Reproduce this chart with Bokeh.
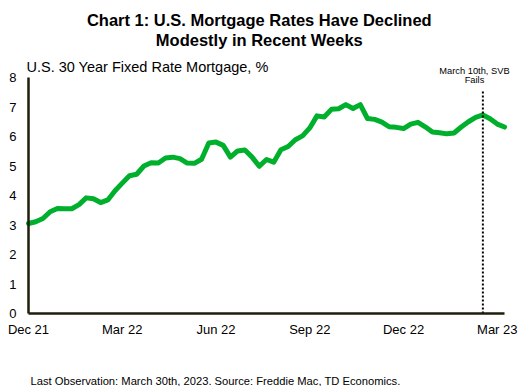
from bokeh.plotting import figure
from bokeh.models import Range1d, FixedTicker, Label
from bokeh.embed import file_html
from bokeh.resources import INLINE

# ---- data ----
dates = [
    "2021-12-23", "2021-12-30", "2022-01-06", "2022-01-13", "2022-01-20", "2022-01-27",
    "2022-02-03", "2022-02-10", "2022-02-17", "2022-02-24", "2022-03-03", "2022-03-10",
    "2022-03-17", "2022-03-24", "2022-03-31", "2022-04-07", "2022-04-14", "2022-04-21",
    "2022-04-28", "2022-05-05", "2022-05-12", "2022-05-19", "2022-05-26", "2022-06-02",
    "2022-06-09", "2022-06-16", "2022-06-23", "2022-06-30", "2022-07-07", "2022-07-14",
    "2022-07-21", "2022-07-28", "2022-08-04", "2022-08-11", "2022-08-18", "2022-08-25",
    "2022-09-01", "2022-09-08", "2022-09-15", "2022-09-22", "2022-09-29", "2022-10-06",
    "2022-10-13", "2022-10-20", "2022-10-27", "2022-11-03", "2022-11-10", "2022-11-17",
    "2022-11-23", "2022-12-01", "2022-12-08", "2022-12-15", "2022-12-22", "2022-12-29",
    "2023-01-05", "2023-01-12", "2023-01-19", "2023-01-26", "2023-02-02", "2023-02-09",
    "2023-02-16", "2023-02-23", "2023-03-02", "2023-03-09", "2023-03-16", "2023-03-23",
    "2023-03-30",
]
rates = [
    3.05, 3.11, 3.22, 3.45, 3.56, 3.55,
    3.55, 3.69, 3.92, 3.89, 3.76, 3.85,
    4.16, 4.42, 4.67, 4.72, 5.00, 5.11,
    5.10, 5.27, 5.30, 5.25, 5.10, 5.09,
    5.23, 5.78, 5.81, 5.70, 5.30, 5.51,
    5.54, 5.30, 4.99, 5.22, 5.13, 5.55,
    5.66, 5.89, 6.02, 6.29, 6.70, 6.66,
    6.92, 6.94, 7.08, 6.95, 7.08, 6.61,
    6.58, 6.49, 6.33, 6.31, 6.27, 6.42,
    6.48, 6.33, 6.15, 6.13, 6.09, 6.12,
    6.32, 6.50, 6.65, 6.73, 6.60, 6.42,
    6.32,
]
tick_labels = ["Dec 21", "Mar 22", "Jun 22", "Sep 22", "Dec 22", "Mar 23"]
tick_step = 13
y_ticks = [0, 1, 2, 3, 4, 5, 6, 7, 8]
event_date = "2023-03-09"
event_lines = ["March 10th, SVB", "Fails"]
title_lines = ["Chart 1: U.S. Mortgage Rates Have Declined", "Modestly in Recent Weeks"]
subtitle = "U.S. 30 Year Fixed Rate Mortgage, %"
footer = "Last Observation: March 30th, 2023. Source: Freddie Mac, TD Economics."

FONT = "Liberation Sans"
GREEN = "#00B02C"
AXIS = "#1e1e0a"

xs = list(range(len(dates)))
n = len(dates) - 1
y_top = y_ticks[-1]

# The frame spans the whole canvas so titles, annotation and footer (drawn
# inside it) are not clipped; both axes sit at value 0 and are bounded to the
# data span.
PX_PER_UNIT = 236 / y_top
PX_PER_WEEK = 476 / n
p = figure(width=518, height=386, output_backend="svg", toolbar_location=None,
           x_range=Range1d(-28 / PX_PER_WEEK, 490 / PX_PER_WEEK),
           y_range=Range1d(-73 / PX_PER_UNIT, 313 / PX_PER_UNIT),
           min_border_left=0, min_border_right=0, min_border_top=0, min_border_bottom=0)
p.outline_line_color = None
p.xgrid.visible = False
p.ygrid.visible = False
p.background_fill_color = "white"
p.border_fill_color = "white"

ticks = [i * tick_step for i in range(len(tick_labels))]
p.xaxis.ticker = FixedTicker(ticks=ticks)
p.xaxis.major_label_overrides = {t: lab for t, lab in zip(ticks, tick_labels)}
p.xaxis.bounds = (0, n)
p.xaxis.fixed_location = 0
p.yaxis.ticker = FixedTicker(ticks=y_ticks)
p.yaxis.bounds = (0, y_top)
p.yaxis.fixed_location = 0

for ax in (p.xaxis, p.yaxis):
    ax.axis_line_color = AXIS
    ax.axis_line_width = 2.5
    ax.major_tick_line_color = None
    ax.minor_tick_line_color = None
    ax.major_tick_out = 0
    ax.major_tick_in = 0
    ax.minor_tick_out = 0
    ax.minor_tick_in = 0
    ax.major_label_text_font = FONT
    ax.major_label_text_font_size = "13px"
    ax.major_label_text_color = "#000000"
p.xaxis.major_label_standoff = 8
p.yaxis.major_label_standoff = 12

p.line(xs, rates, line_color=GREEN, line_width=5, line_join="round", line_cap="round")

ev = dates.index(event_date)
p.segment(x0=[ev], y0=[0], x1=[ev], y1=[7.54], line_color="black", line_width=2, line_dash="2 2")

def lab(x, y, text, size, align="left", bold=False):
    p.add_layout(Label(x=x, y=y, x_units="data", y_units="data", text=text,
                       text_font=FONT, text_font_size=size, text_align=align,
                       text_baseline="alphabetic", text_color="black",
                       text_font_style="bold" if bold else "normal"))

lab(32.0, 9.95, title_lines[0], "16.5px", "center", True)
lab(32.0, 9.27, title_lines[1], "16.5px", "center", True)
lab(-0.28, 8.34, subtitle, "14.5px")
lab(61.84, 8.21, event_lines[0], "9.3px", "center")
lab(61.84, 7.90, event_lines[1], "9.3px", "center")
lab(0.28, -2.30, footer, "11.2px")

open("out.html", "w").write(file_html(p, INLINE))
